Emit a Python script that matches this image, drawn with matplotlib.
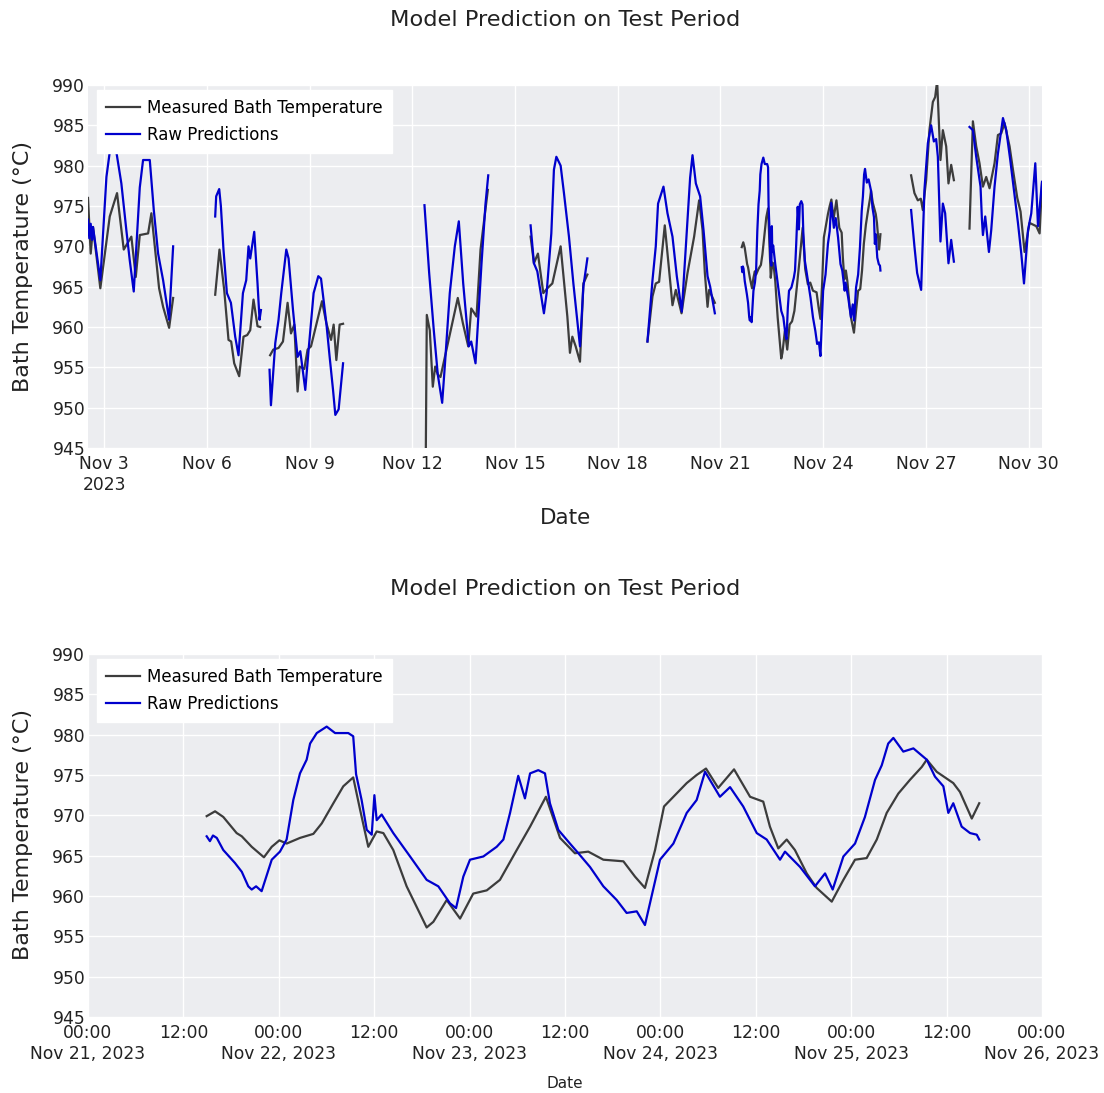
import numpy as np
import pandas as pd
import matplotlib
matplotlib.use("Agg")
import matplotlib.pyplot as plt
import matplotlib.dates as mdates
from matplotlib.ticker import FixedLocator, FixedFormatter

NAN = np.nan

# ---- data: fractional day of November 2023, NaN marks a gap in the record ----
meas_day = [
    2.532, 2.611, 2.678, 2.892, 3.167, 3.380, 3.576, 3.798, 3.927, 4.044, 4.287, 4.383, 4.608, 4.725, 4.901, 5.018,
    5.5,
    6.246, 6.371, 6.509, 6.635, 6.713, 6.801, 6.947, 7.073, 7.181, 7.269, 7.365, 7.482, 7.561,
    7.7,
    7.850, 7.942, 8.096, 8.225, 8.360, 8.459, 8.556, 8.652, 8.711, 8.848, 8.944, 9.044, 9.365, 9.491, 9.629, 9.705,
    9.784, 9.880, 9.980,
    11.0,
    12.380, 12.425, 12.512, 12.600, 12.670, 12.746, 12.825, 13.000, 13.167, 13.330, 13.477, 13.635, 13.722, 13.877,
    13.994, 14.208,
    14.8,
    15.456, 15.553, 15.670, 15.827, 15.944, 16.091, 16.333, 16.450, 16.529, 16.605, 16.675, 16.772, 16.898, 16.997,
    17.114,
    18.0,
    18.868, 19.015, 19.111, 19.208, 19.374, 19.500, 19.599, 19.696, 19.863, 20.038, 20.231, 20.377, 20.477, 20.544,
    20.623, 20.670, 20.836,
    21.2,
    21.622, 21.666, 21.709, 21.779, 21.806, 21.858, 21.922, 21.963, 22.003, 22.041, 22.111, 22.181, 22.225, 22.286,
    22.338, 22.390, 22.426, 22.469, 22.513, 22.548, 22.600, 22.670, 22.775, 22.810, 22.880, 22.950, 23.019, 23.090,
    23.159, 23.247, 23.317, 23.400, 23.474, 23.552, 23.622, 23.701, 23.806, 23.867, 23.919, 23.972, 24.019, 24.068,
    24.138, 24.190, 24.239, 24.303, 24.386, 24.470, 24.539, 24.574, 24.618, 24.662, 24.705, 24.767, 24.819, 24.898,
    24.959, 25.020, 25.081, 25.134, 25.186, 25.247, 25.308, 25.370, 25.396, 25.448, 25.535, 25.570, 25.632, 25.671,
    26.1,
    26.567, 26.664, 26.763, 26.850, 26.909, 27.006, 27.102, 27.202, 27.269, 27.327, 27.424, 27.494, 27.591, 27.658,
    27.737, 27.816,
    28.0,
    28.272, 28.371, 28.468, 28.564, 28.664, 28.760, 28.857, 29.003, 29.102, 29.199, 29.295, 29.442, 29.541, 29.667,
    29.763, 29.880, 30.026, 30.222, 30.319, 30.389,
]
meas_val = [
    976.0, 969.1, 972.4, 964.8, 973.7, 976.6, 969.6, 971.2, 966.2, 971.4, 971.6, 974.1, 964.8, 962.5, 959.9, 963.6,
    NAN,
    964.0, 969.6, 964.6, 958.4, 958.2, 955.5, 953.9, 958.8, 959.0, 959.6, 963.4, 960.1, 960.0,
    NAN,
    956.5, 957.2, 957.4, 958.2, 963.0, 959.2, 960.3, 952.0, 955.1, 954.8, 957.2, 957.6, 963.2, 960.5, 958.4, 960.3,
    955.9, 960.3, 960.4,
    NAN,
    935.0, 961.5, 959.6, 952.6, 955.1, 954.1, 953.8, 957.2, 960.5, 963.6, 960.5, 957.6, 962.3, 961.3,
    969.6, 977.0,
    NAN,
    971.2, 967.9, 969.1, 964.2, 964.8, 965.4, 970.0, 964.8, 961.3, 956.8, 958.8, 957.6, 955.7, 965.4,
    966.5,
    NAN,
    958.2, 963.8, 965.4, 965.6, 972.6, 967.1, 962.7, 964.6, 961.7, 966.7, 971.2, 975.7, 972.0, 966.7,
    962.5, 964.6, 963.0,
    NAN,
    969.9, 970.5, 969.8, 967.8, 967.4, 966.1, 964.8, 966.1, 966.9, 966.5, 967.2, 967.7, 969.0, 971.5,
    973.6, 974.7, 970.7, 966.1, 968.0, 967.8, 965.7, 961.2, 956.1, 956.8, 959.5, 957.2, 960.3, 960.7,
    962.0, 965.7, 968.6, 972.3, 967.2, 965.3, 965.5, 964.5, 964.3, 962.4, 961.0, 965.7, 971.1, 972.3,
    974.0, 975.0, 975.8, 973.4, 975.7, 972.3, 971.7, 968.6, 965.9, 967.0, 965.7, 962.8, 961.0, 959.3,
    962.0, 964.5, 964.7, 967.0, 970.3, 972.7, 974.4, 976.0, 976.9, 975.4, 974.0, 972.9, 969.6, 971.5,
    NAN,
    978.8, 976.6, 975.7, 975.9, 974.5, 978.2, 984.4, 987.9, 988.5, 990.5, 980.7, 984.4, 982.4, 977.8,
    980.1, 978.2,
    NAN,
    972.2, 985.5, 982.4, 980.3, 977.4, 978.6, 977.2, 980.3, 983.8, 984.0, 985.3, 982.4, 979.5, 976.0,
    974.3, 969.3, 972.9, 972.5, 971.6, 977.8,
]

pred_day = [
    2.532, 2.570, 2.611, 2.650, 2.678, 2.892, 3.070, 3.167, 3.360, 3.506, 3.652, 3.750, 3.868, 4.044, 4.140, 4.336,
    4.453, 4.579, 4.725, 4.901, 5.018,
    5.5,
    6.246, 6.275, 6.363, 6.412, 6.488, 6.588, 6.705, 6.830, 6.927, 7.056, 7.152, 7.219, 7.269, 7.386, 7.482, 7.541,
    7.582,
    7.7,
    7.833, 7.874, 8.000, 8.096, 8.175, 8.322, 8.389, 8.518, 8.652, 8.731, 8.877, 8.974, 9.120, 9.257, 9.336, 9.491,
    9.588, 9.687, 9.754, 9.851, 9.980,
    11.0,
    12.357, 12.494, 12.629, 12.746, 12.874, 12.950, 13.096, 13.243, 13.360, 13.488, 13.652, 13.722, 13.848, 14.023,
    14.140, 14.219,
    14.8,
    15.456, 15.553, 15.652, 15.845, 15.924, 16.061, 16.137, 16.208, 16.333, 16.430, 16.576, 16.705, 16.898, 16.997,
    17.114,
    18.0,
    18.868, 19.015, 19.111, 19.178, 19.336, 19.453, 19.599, 19.725, 19.871, 19.988, 20.114, 20.184, 20.281, 20.406,
    20.506, 20.623, 20.699, 20.836,
    21.2,
    21.622, 21.639, 21.655, 21.675, 21.709, 21.770, 21.806, 21.840, 21.858, 21.881, 21.910, 21.963, 22.006, 22.041,
    22.076, 22.111, 22.146, 22.164, 22.199, 22.251, 22.295, 22.364, 22.390, 22.405, 22.434, 22.461, 22.487, 22.501,
    22.513, 22.539, 22.600, 22.688, 22.775, 22.836, 22.897, 22.929, 22.967, 23.002, 23.072, 23.142, 23.177, 23.212,
    23.255, 23.290, 23.317, 23.360, 23.395, 23.421, 23.465, 23.526, 23.570, 23.631, 23.701, 23.771, 23.823, 23.876,
    23.919, 23.954, 23.998, 24.068, 24.138, 24.190, 24.234, 24.312, 24.365, 24.434, 24.505, 24.557, 24.627, 24.653,
    24.732, 24.810, 24.863, 24.903, 24.959, 25.020, 25.072, 25.125, 25.160, 25.194, 25.221, 25.273, 25.326, 25.396,
    25.439, 25.483, 25.509, 25.535, 25.579, 25.623, 25.658, 25.671,
    26.1,
    26.567, 26.664, 26.743, 26.860, 26.956, 27.056, 27.152, 27.231, 27.298, 27.348, 27.424, 27.494, 27.561, 27.658,
    27.737, 27.816,
    28.0,
    28.272, 28.371, 28.468, 28.535, 28.594, 28.635, 28.664, 28.731, 28.839, 28.906, 29.003, 29.102, 29.249, 29.345,
    29.462, 29.570, 29.687, 29.784, 29.863, 29.980, 30.076, 30.155, 30.193, 30.272, 30.389,
]
pred_val = [
    973.3, 971.0, 972.8, 970.8, 972.4, 965.8, 978.6, 981.7, 981.7, 977.8, 972.0, 968.3, 964.4, 977.3, 980.7, 980.7,
    974.5, 969.1, 965.8, 960.9, 970.0,
    NAN,
    973.7, 976.2, 977.1, 975.0, 969.6, 964.2, 963.0, 958.8, 956.5, 964.2, 965.8, 970.0, 968.5, 971.8, 965.4, 960.9,
    962.1,
    NAN,
    954.7, 950.3, 958.0, 960.9, 964.2, 969.6, 968.5, 962.1, 956.3, 957.0, 952.2, 957.2, 964.2, 966.3, 966.0, 960.5,
    956.3, 952.2, 949.1, 949.8, 955.5,
    NAN,
    975.1, 966.7, 959.6, 954.1, 950.6, 955.1, 964.2, 970.0, 973.1, 965.4, 957.6, 958.2, 955.5, 967.9,
    975.3, 978.8,
    NAN,
    972.6, 967.9, 966.9, 961.7, 964.2, 971.6, 979.5, 981.1, 980.0, 976.6, 971.2, 965.4, 957.6, 965.0,
    968.5,
    NAN,
    958.2, 965.8, 970.0, 975.3, 977.4, 974.1, 971.2, 966.3, 961.9, 970.0, 978.5, 981.3, 977.8, 976.2,
    972.0, 966.3, 965.0, 961.7,
    NAN,
    967.4, 966.8, 967.5, 967.2, 965.7, 964.1, 963.0, 961.2, 960.8, 961.2, 960.6, 964.5, 965.5, 967.0,
    971.9, 975.2, 976.9, 978.9, 980.2, 981.0, 980.2, 980.2, 979.8, 975.1, 971.9, 968.2, 967.6, 972.5,
    969.4, 970.1, 967.8, 964.9, 962.0, 961.2, 959.1, 958.5, 962.4, 964.5, 964.9, 966.1, 967.0, 970.3,
    974.9, 972.1, 975.2, 975.6, 975.2, 971.5, 968.2, 966.5, 965.3, 963.6, 961.2, 959.5, 957.9, 958.1,
    956.4, 960.0, 964.5, 966.5, 970.3, 971.9, 975.4, 972.3, 973.5, 971.1, 967.8, 967.0, 964.5, 965.5,
    963.6, 961.2, 962.8, 960.8, 964.9, 966.5, 969.8, 974.4, 976.2, 978.9, 979.6, 977.9, 978.3, 976.9,
    974.8, 973.6, 970.3, 971.5, 968.6, 967.8, 967.6, 967.0,
    NAN,
    974.5, 970.0, 966.7, 964.6, 977.0, 982.8, 985.0, 983.0, 983.3, 981.1, 970.6, 975.3, 974.1, 967.9,
    970.8, 968.1,
    NAN,
    984.8, 984.4, 981.1, 979.1, 977.4, 973.3, 971.4, 973.7, 969.3, 972.0, 977.4, 981.5, 985.9, 984.4,
    980.7, 977.0, 972.9, 969.1, 965.4, 972.0, 974.1, 978.2, 980.3, 972.5, 978.0,
]

series_names = ["Measured Bath Temperature", "Raw Predictions"]
title_text = "Model Prediction on Test Period"
y_label = "Bath Temperature (°C)"
x_label = "Date"
y_ticks = [945, 950, 955, 960, 965, 970, 975, 980, 985, 990]
top_tick_days = [3, 6, 9, 12, 15, 18, 21, 24, 27, 30]
top_tick_labels = ["Nov 3\n2023", "Nov 6", "Nov 9", "Nov 12", "Nov 15", "Nov 18",
                   "Nov 21", "Nov 24", "Nov 27", "Nov 30"]
zoom_start, zoom_end = "2023-11-21 00:00", "2023-11-26 00:00"
zoom_tick_labels = ["00:00\nNov 21, 2023", "12:00", "00:00\nNov 22, 2023", "12:00",
                    "00:00\nNov 23, 2023", "12:00", "00:00\nNov 24, 2023", "12:00",
                    "00:00\nNov 25, 2023", "12:00", "00:00\nNov 26, 2023"]

# ---- build time axes ----
base = pd.Timestamp("2023-11-01")
def to_time(days):
    return base + pd.to_timedelta(np.asarray(days) - 1.0, unit="D")

meas_t = to_time(meas_day)
pred_t = to_time(pred_day)

BG = "#ECEDF0"
C_MEAS = "#3c3c3c"
C_PRED = "#0000CD"

plt.rcParams["font.family"] = ["DejaVu Sans"]

W, H = 1104, 1093
fig = plt.figure(figsize=(W / 100, H / 100), dpi=100)

def px_axes(left, top, right, bottom):
    return fig.add_axes([left / W, 1 - bottom / H, (right - left) / W, (bottom - top) / H])

ax1 = px_axes(88, 85, 1042, 448)
ax2 = px_axes(88, 654, 1042, 1017)

for ax in (ax1, ax2):
    ax.set_facecolor(BG)
    for s in ax.spines.values():
        s.set_visible(False)
    ax.plot(meas_t, meas_val, color=C_MEAS, lw=1.6, label=series_names[0], zorder=3)
    ax.plot(pred_t, pred_val, color=C_PRED, lw=1.6, label=series_names[1], zorder=4)
    ax.set_ylim(y_ticks[0], y_ticks[-1])
    ax.yaxis.set_major_locator(FixedLocator(y_ticks))
    ax.grid(True, color="white", lw=1.0, zorder=0)
    ax.set_axisbelow(True)
    ax.tick_params(length=0, labelsize=12.3, labelcolor="#222222")
    ax.tick_params(axis="y", pad=2)
    ax.tick_params(axis="x", pad=5)
    leg = ax.legend(loc="upper left", bbox_to_anchor=(0.0095, 0.986), frameon=True, fancybox=False,
                    fontsize=12, handlelength=2.0, handletextpad=0.45, borderpad=0.55,
                    labelspacing=0.52, borderaxespad=0.0)
    leg.get_frame().set_facecolor("white")
    leg.get_frame().set_edgecolor("white")
    leg.get_frame().set_alpha(1.0)

# top axis: full range
x_all = np.concatenate([meas_t.values, pred_t.values])
ax1.set_xlim(x_all.min(), x_all.max())
ax1.xaxis.set_major_locator(FixedLocator(mdates.date2num(to_time(top_tick_days))))
ax1.xaxis.set_major_formatter(FixedFormatter(top_tick_labels))

# bottom axis: zoomed window
t0, t1 = pd.Timestamp(zoom_start), pd.Timestamp(zoom_end)
ax2.set_xlim(t0, t1)
zt = pd.date_range(t0, t1, freq="12h")
ax2.xaxis.set_major_locator(FixedLocator(mdates.date2num(zt)))
ax2.xaxis.set_major_formatter(FixedFormatter(zoom_tick_labels))

# titles and labels placed in figure pixels
def ftext(x, y, s, **kw):
    fig.text(x / W, 1 - y / H, s, ha="center", va="center", color="#222222", **kw)

ftext(565, 20, title_text, fontsize=16.2)
ftext(565, 589, title_text, fontsize=16.2)
ftext(565, 518, x_label, fontsize=15.5)
ftext(565, 1083, x_label, fontsize=11)
ftext(23, 267, y_label, fontsize=16, rotation=90)
ftext(23, 835, y_label, fontsize=16, rotation=90)

fig.savefig("out.png", dpi=100, facecolor="white")
